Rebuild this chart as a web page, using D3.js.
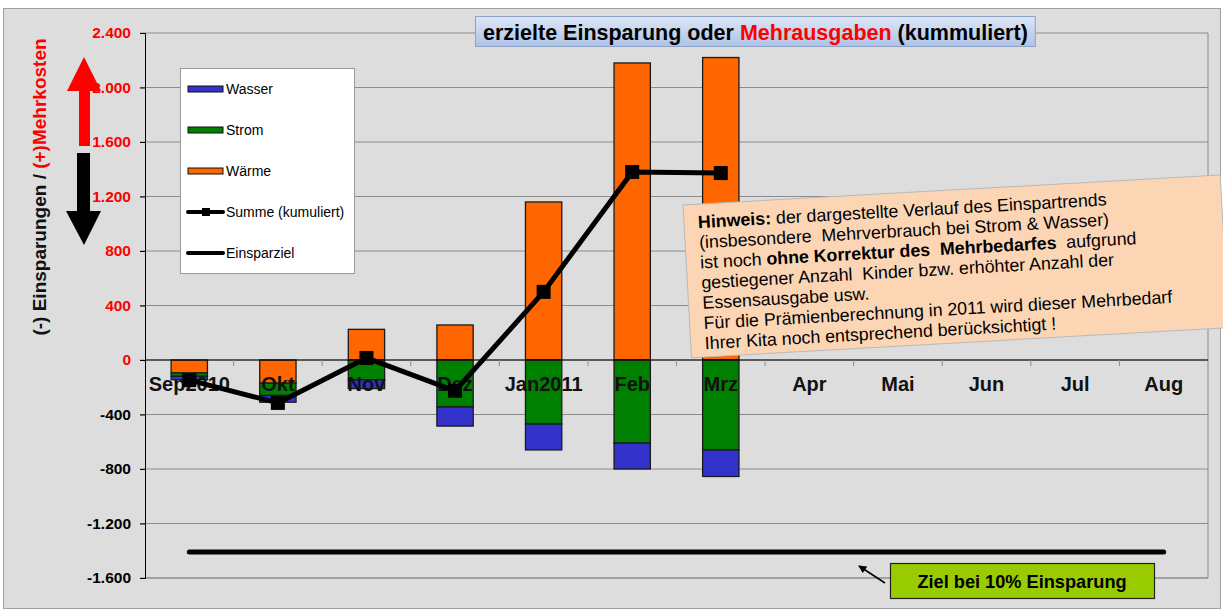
<!DOCTYPE html>
<html>
<head>
<meta charset="utf-8">
<script src="https://cdn.jsdelivr.net/npm/d3@7"></script>
<style>
  body { margin: 0; background: #fff; }
  svg { display: block; font-family: Arial, "Liberation Sans", sans-serif; }
  text { white-space: pre; }
</style>
</head>
<body>
<svg></svg>
<script>
const width = 1223, height = 610;

// data (cumulative values)
const months = ["Sep2010", "Okt", "Nov", "Dez", "Jan2011", "Feb", "Mrz", "Apr", "Mai", "Jun", "Jul", "Aug"];
const waerme = [-95, -170, 225, 257, 1160, 2180, 2220, 0, 0, 0, 0, 0];
const strom  = [-25, -90, -145, -345, -470, -610, -660, 0, 0, 0, 0, 0];
const wasser = [-25, -50, -65, -140, -190, -190, -195, 0, 0, 0, 0, 0];
const summe  = [-148, -315, 15, -226, 500, 1380, 1372];
const ziel   = [-1410, -1410, -1410, -1410, -1410, -1410, -1410, -1410, -1410, -1410, -1410, -1410];
const yTicks = [-1600, -1200, -800, -400, 0, 400, 800, 1200, 1600, 2000, 2400];

const noteLines = [
  [["Hinweis:", true], [" der dargestellte Verlauf des Einspartrends", false]],
  [["(insbesondere  Mehrverbrauch bei Strom & Wasser)", false]],
  [["ist noch ", false], ["ohne Korrektur des  Mehrbedarfes", true], ["  aufgrund", false]],
  [["gestiegener Anzahl  Kinder bzw. erhöhter Anzahl der", false]],
  [["Essensausgabe usw.", false]],
  [["Für die Prämienberechnung in 2011 wird dieser Mehrbedarf", false]],
  [["Ihrer Kita noch entsprechend berücksichtigt !", false]]
];

const colors = { wasser: "#3333cc", strom: "#008000", waerme: "#ff6600" };

const svg = d3.select("svg").attr("width", width).attr("height", height);

// background + outer frame
svg.append("rect").attr("x", 0).attr("y", 0).attr("width", width).attr("height", height).attr("fill", "#ffffff");
svg.append("rect").attr("x", 3.5).attr("y", 8.5).attr("width", 1217).attr("height", 600)
  .attr("fill", "#dddddd").attr("stroke", "#a0a0a0");

const plot = { left: 145, right: 1208, top: 33, bottom: 578 };

const x = d3.scaleBand().domain(months).range([plot.left, plot.right])
  .paddingInner(0.59).paddingOuter(0.295);
const y = d3.scaleLinear().domain([-1600, 2400]).range([plot.bottom, plot.top]);
const cx = m => x(m) + x.bandwidth() / 2;

const de = d3.formatLocale({ decimal: ",", thousands: ".", grouping: [3], currency: ["", "€"], minus: "-" });
const fmt = de.format(",d");

// gridlines
svg.append("g").selectAll("line").data(yTicks).join("line")
  .attr("x1", plot.left - 5).attr("x2", plot.right)
  .attr("y1", d => y(d)).attr("y2", d => y(d))
  .attr("stroke", "#8c8c8c").attr("stroke-width", 1);

// plot frame right / bottom
svg.append("path")
  .attr("d", `M${plot.right},${plot.top}V${plot.bottom}H${plot.left}`)
  .attr("fill", "none").attr("stroke", "#8c8c8c");

// y axis
const yAxis = svg.append("g").attr("transform", `translate(${plot.left},0)`)
  .call(d3.axisLeft(y).tickValues(yTicks).tickFormat(fmt).tickSize(5).tickPadding(9));
yAxis.select(".domain").attr("stroke", "#000");
yAxis.selectAll(".tick line").attr("stroke", "#000");
yAxis.selectAll(".tick text")
  .attr("font-family", "Arial, 'Liberation Sans', sans-serif")
  .attr("font-size", 15.5).attr("font-weight", "bold")
  .attr("fill", d => d >= 0 ? "#ff0000" : "#000");

// stacked bars
const rows = months.map((m, i) => ({ month: m, waerme: waerme[i], strom: strom[i], wasser: wasser[i] }));
const stack = d3.stack().keys(["waerme", "strom", "wasser"]).offset(d3.stackOffsetDiverging)(rows);

svg.append("g").selectAll("g").data(stack).join("g")
  .attr("fill", d => colors[d.key])
  .selectAll("rect").data(d => d.filter(p => p[1] !== p[0])).join("rect")
  .attr("x", d => x(d.data.month))
  .attr("width", x.bandwidth())
  .attr("y", d => y(Math.max(d[0], d[1])))
  .attr("height", d => Math.abs(y(d[0]) - y(d[1])))
  .attr("stroke", "#1a1a1a").attr("stroke-width", 1.3);

// zero line + category ticks + labels
const xAxis = svg.append("g").attr("transform", `translate(0,${y(0)})`);
xAxis.append("line").attr("x1", plot.left).attr("x2", plot.right).attr("stroke", "#000").attr("stroke-width", 1.2);
xAxis.selectAll("line.tk").data(months.slice(1)).join("line").attr("class", "tk")
  .attr("x1", d => x(d) - x.step() * x.paddingInner() / 2).attr("x2", d => x(d) - x.step() * x.paddingInner() / 2)
  .attr("y1", 0).attr("y2", 6).attr("stroke", "#8c8c8c");
xAxis.selectAll("text").data(months).join("text")
  .attr("x", d => cx(d)).attr("y", 31)
  .attr("text-anchor", "middle").attr("font-size", 20).attr("font-weight", "bold").attr("fill", "#111")
  .text(d => d);

// Einsparziel line
const line = d3.line().x(d => cx(d.m)).y(d => y(d.v));
svg.append("path")
  .datum(ziel.map((v, i) => ({ m: months[i], v })))
  .attr("d", line).attr("fill", "none").attr("stroke", "#000")
  .attr("stroke-width", 5).attr("stroke-linecap", "round");

// Summe line
const sumData = summe.map((v, i) => ({ m: months[i], v }));
svg.append("path").datum(sumData)
  .attr("d", line).attr("fill", "none").attr("stroke", "#000")
  .attr("stroke-width", 5).attr("stroke-linejoin", "round");
svg.append("g").selectAll("rect").data(sumData).join("rect")
  .attr("x", d => cx(d.m) - 7).attr("y", d => y(d.v) - 7)
  .attr("width", 14).attr("height", 14).attr("fill", "#000");

// legend
const lg = svg.append("g").attr("transform", "translate(180,68)");
lg.append("rect").attr("x", 0.5).attr("y", 0.5).attr("width", 174).attr("height", 205)
  .attr("fill", "#fff").attr("stroke", "#9a9a9a");
const legendItems = [
  { label: "Wasser", type: "bar", color: colors.wasser },
  { label: "Strom", type: "bar", color: colors.strom },
  { label: "Wärme", type: "bar", color: colors.waerme },
  { label: "Summe (kumuliert)", type: "marker" },
  { label: "Einsparziel", type: "line" }
];
legendItems.forEach((d, i) => {
  const gy = 21 + i * 41;
  const g = lg.append("g").attr("transform", `translate(0,${gy})`);
  if (d.type === "bar") {
    g.append("rect").attr("x", 8).attr("y", -3).attr("width", 35).attr("height", 6)
      .attr("fill", d.color).attr("stroke", "#111").attr("stroke-width", 1);
  } else {
    g.append("line").attr("x1", 8).attr("x2", 43).attr("y1", 0).attr("y2", 0)
      .attr("stroke", "#000").attr("stroke-width", 4).attr("stroke-linecap", "round");
    if (d.type === "marker") g.append("rect").attr("x", 22).attr("y", -4).attr("width", 8).attr("height", 8).attr("fill", "#000");
  }
  g.append("text").attr("x", 46).attr("y", 5).attr("font-size", 14).attr("fill", "#000").text(d.label);
});

// y axis title
const yt = svg.append("text").attr("transform", "translate(46,187) rotate(-90)")
  .attr("text-anchor", "middle").attr("font-size", 19).attr("font-weight", "bold");
yt.append("tspan").attr("fill", "#111").text("(-) Einsparungen / ");
yt.append("tspan").attr("fill", "#ff0000").text("(+)Mehrkosten");

// arrows
svg.append("path")
  .attr("d", "M84,57 L101,91 L90,91 L90,146 L79,146 L79,91 L67,91 Z")
  .attr("fill", "#ff0000");
svg.append("path")
  .attr("d", "M77,153 L90,153 L90,211 L101,211 L84,245 L66,211 L77,211 Z")
  .attr("fill", "#000");

// title box
const defs = svg.append("defs");
const grad = defs.append("linearGradient").attr("id", "tg").attr("x1", 0).attr("y1", 0).attr("x2", 0).attr("y2", 1);
grad.append("stop").attr("offset", "0%").attr("stop-color", "#dde6f5");
grad.append("stop").attr("offset", "100%").attr("stop-color", "#aec3e6");
const tg = svg.append("g");
const tbox = tg.append("rect").attr("y", 16.5).attr("height", 30)
  .attr("fill", "url(#tg)").attr("stroke", "#8ea2c6");
const tt = tg.append("text").attr("x", 483).attr("y", 39.5).attr("font-size", 21.5).attr("font-weight", "bold");
tt.append("tspan").attr("fill", "#000").text("erzielte Einsparung oder ");
tt.append("tspan").attr("fill", "#ff0000").text("Mehrausgaben");
tt.append("tspan").attr("fill", "#000").text(" (kummuliert)");
const tw = tt.node().getComputedTextLength();
tbox.attr("x", 475.5).attr("width", tw + 15);

// note box
const note = svg.append("g").attr("transform", "translate(683,205) rotate(-3.2)");
note.append("rect").attr("width", 538).attr("height", 153)
  .attr("fill", "#fcd5b5").attr("stroke", "#b9b9b9");
noteLines.forEach((parts, i) => {
  const t = note.append("text").attr("x", 14).attr("y", 24 + i * 20.2)
    .attr("font-size", 17.8).attr("fill", "#000");
  parts.forEach(([s, b]) => t.append("tspan").attr("font-weight", b ? "bold" : "normal").text(s));
});

// Ziel box + arrow
defs.append("marker").attr("id", "ah").attr("viewBox", "0 0 10 10").attr("refX", 9).attr("refY", 5)
  .attr("markerWidth", 5).attr("markerHeight", 5).attr("orient", "auto")
  .append("path").attr("d", "M0,0 L10,5 L0,10 Z").attr("fill", "#000");
svg.append("line").attr("x1", 885).attr("y1", 583).attr("x2", 859).attr("y2", 566)
  .attr("stroke", "#000").attr("stroke-width", 1.6).attr("marker-end", "url(#ah)");
svg.append("rect").attr("x", 890.5).attr("y", 563.5).attr("width", 264).attr("height", 35)
  .attr("fill", "#99cc00").attr("stroke", "#222").attr("stroke-width", 1.2);
svg.append("text").attr("x", 1022).attr("y", 588).attr("text-anchor", "middle")
  .attr("font-size", 18.2).attr("font-weight", "bold").attr("fill", "#000")
  .text("Ziel bei 10% Einsparung");
</script>
</body>
</html>
